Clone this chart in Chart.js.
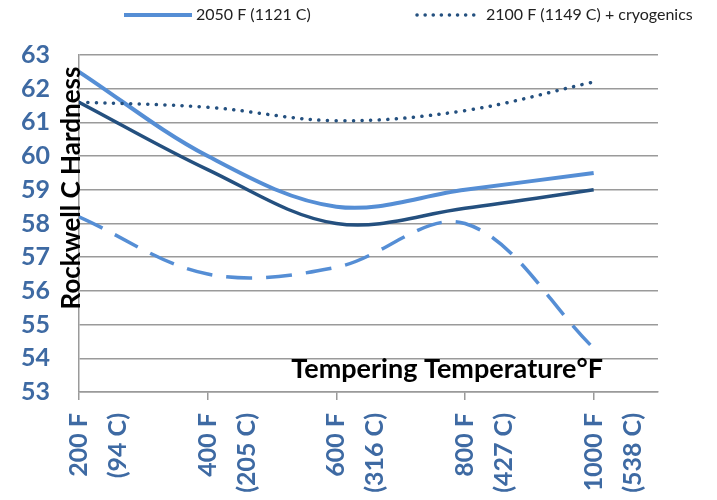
<!DOCTYPE html>
<html>
<head>
<meta charset="utf-8">
<script src="https://cdn.jsdelivr.net/npm/chart.js@4.4.1/dist/chart.umd.min.js"></script>
<style>
  body { margin: 0; background: #fff; }
  #wrap { width: 717px; height: 500px; }
</style>
</head>
<body>
<div id="wrap"><canvas id="hardness" width="717" height="500"></canvas></div>
<script>
const tempF = [200, 400, 600, 800, 1000];
const tempC = [94, 205, 316, 427, 538];
const yTicks = [53, 54, 55, 56, 57, 58, 59, 60, 61, 62, 63];

// Rockwell C readings per austenitizing treatment
const hard2050 = [62.5, 60.0, 58.5, 59.0, 59.5];
const hardDark = [61.6, 59.6, 58.0, 58.45, 59.0];
const hardDashed = [58.2, 56.5, 56.7, 58.0, 54.3];
const hard2100Cryo = [61.6, 61.45, 61.05, 61.35, 62.2];

const lightBlue = '#558ed5';
const navy = '#24507f';
const tickBlue = '#3e6aa3';
const gridGrey = '#9a9a9a';

function pts(values) {
  return values.map((v, i) => ({ x: tempF[i], y: v }));
}

// titles and the two-entry legend drawn on top of the chart
const extras = {
  id: 'extras',
  afterDraw(chart) {
    const ctx = chart.ctx;
    ctx.save();
    // legend
    ctx.lineWidth = 4;
    ctx.strokeStyle = lightBlue;
    ctx.beginPath();
    ctx.moveTo(124, 15);
    ctx.lineTo(192, 15);
    ctx.stroke();
    ctx.strokeStyle = navy;
    ctx.lineCap = 'round';
    ctx.lineWidth = 3.5;
    ctx.setLineDash([0.1, 8]);
    ctx.beginPath();
    ctx.moveTo(417, 15);
    ctx.lineTo(480, 15);
    ctx.stroke();
    ctx.setLineDash([]);
    ctx.fillStyle = '#222';
    ctx.font = '16px Lato';
    ctx.textBaseline = 'middle';
    ctx.fillText('2050 F (1121 C)', 196, 15);
    ctx.fillText('2100 F (1149 C) + cryogenics', 486, 15);

    // axis titles
    ctx.fillStyle = '#000';
    ctx.font = 'bold 27px Lato';
    ctx.textBaseline = 'alphabetic';
    ctx.textAlign = 'right';
    ctx.fillText('Tempering Temperature°F', 603, 378);
    ctx.font = 'bold 26px Lato';
    ctx.translate(80, 188);
    ctx.rotate(-Math.PI / 2);
    ctx.textAlign = 'center';
    ctx.fillText('Rockwell C Hardness', 0, 0);
    ctx.restore();
  }
};

new Chart(document.getElementById('hardness'), {
  type: 'line',
  data: {
    datasets: [
      {
        label: '2100 F (1149 C) + cryogenics',
        data: pts(hard2100Cryo),
        borderColor: navy,
        borderWidth: 3.5,
        borderDash: [0.1, 8.5],
        borderCapStyle: 'round'
      },
      {
        label: 'series 3',
        data: pts(hardDashed),
        borderColor: lightBlue,
        borderWidth: 3.5,
        borderDash: [26, 14]
      },
      {
        label: 'series 2',
        data: pts(hardDark),
        borderColor: navy,
        borderWidth: 3.5
      },
      {
        label: '2050 F (1121 C)',
        data: pts(hard2050),
        borderColor: lightBlue,
        borderWidth: 4
      }
    ]
  },
  options: {
    responsive: false,
    animation: false,
    layout: { padding: { top: 55, right: 59, left: 0, bottom: 0 } },
    elements: {
      point: { radius: 0 },
      line: { tension: 0.35, fill: false }
    },
    plugins: {
      legend: { display: false },
      tooltip: { enabled: false }
    },
    scales: {
      x: {
        type: 'linear',
        min: 200,
        max: 1100,
        afterBuildTicks: function(scale) {
          scale.ticks = tempF.map(v => ({ value: v }));
        },
        afterFit: function(scale) { scale.height = 108; },
        grid: {
          drawOnChartArea: false,
          drawTicks: true,
          tickLength: 8,
          color: gridGrey,
          lineWidth: 1.5
        },
        border: { display: true, color: gridGrey, width: 1.5 },
        ticks: {
          autoSkip: false,
          minRotation: 90,
          maxRotation: 90,
          padding: 13,
          color: tickBlue,
          font: { family: 'Lato', weight: 'bold', size: 25, lineHeight: 1.56 },
          callback: function(value) {
            const i = tempF.indexOf(value);
            return i < 0 ? '' : [tempF[i] + ' F', '(' + tempC[i] + ' C)'];
          }
        }
      },
      y: {
        min: 53,
        max: 63,
        afterBuildTicks: function(scale) {
          scale.ticks = yTicks.map(v => ({ value: v }));
        },
        afterFit: function(scale) { scale.width = 79; },
        grid: {
          drawTicks: false,
          color: gridGrey,
          lineWidth: 1.5
        },
        border: { display: true, color: gridGrey, width: 1.5 },
        ticks: {
          padding: 29,
          color: tickBlue,
          font: { family: 'Lato', weight: 'bold', size: 25 }
        }
      }
    }
  },
  plugins: [extras]
});
</script>
</body>
</html>
